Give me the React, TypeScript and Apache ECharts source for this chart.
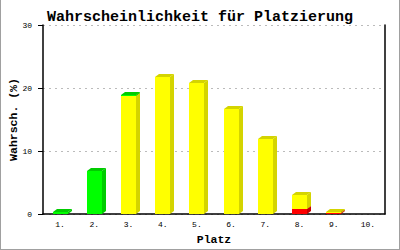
import React, { useEffect, useRef } from "react";
import * as echarts from "echarts";

const categories = ["1.", "2.", "3.", "4.", "5.", "6.", "7.", "8.", "9.", "10."];
const redValues = [0, 0, 0, 0, 0, 0, 0, 0.8, 0.12, 0];
const yellowValues = [0, 0, 18.7, 21.8, 20.8, 16.7, 11.9, 2.2, 0.18, 0];
const greenValues = [0.3, 6.9, 0.1, 0, 0, 0, 0, 0, 0, 0];
const yTicks = [0, 10, 20, 30];

const FRONT = { red: "#ff0000", yellow: "#ffff00", green: "#00ff00" };
const SIDE = { red: "#c80000", yellow: "#d4d400", green: "#00cc00" };

function stackData(vals: number[], below: number[][]) {
  return vals.map((v, i) => {
    const start = below.reduce((s, arr) => s + arr[i], 0);
    return [i, start, start + v];
  });
}

function makeRender(front: string, side: string) {
  return (params: any, api: any) => {
    const idx = api.value(0);
    const s = api.value(1);
    const e = api.value(2);
    if (e - s <= 0) return null;
    const cx = api.coord([idx, 0])[0];
    const y0 = Math.round(api.coord([idx, s])[1]);
    let y1 = api.coord([idx, e])[1];
    y1 = Math.min(Math.round(y1), y0 - 1);
    const xl = Math.round(cx - 7.5);
    const xr = xl + 15;
    const dx = 4;
    const dy = 3;
    return {
      type: "group",
      children: [
        {
          type: "polygon",
          shape: { points: [[xr, y0], [xr + dx, y0 - dy], [xr + dx, y1 - dy], [xr, y1]] },
          style: { fill: side },
        },
        {
          type: "polygon",
          shape: { points: [[xl, y1], [xl + dx, y1 - dy], [xr + dx, y1 - dy], [xr, y1]] },
          style: { fill: side },
        },
        {
          type: "rect",
          shape: { x: xl, y: y1, width: xr - xl, height: y0 - y1 },
          style: { fill: front },
        },
      ],
    };
  };
}

export default function App() {
  const ref = useRef<HTMLDivElement>(null);
  useEffect(() => {
    document.body.style.margin = "0";
    const chart = echarts.init(ref.current!, undefined, { renderer: "svg" });
    const mono = "Liberation Mono";
    const redData = stackData(redValues, []);
    const yellowData = stackData(yellowValues, [redValues]);
    const greenData = stackData(greenValues, [redValues, yellowValues]);
    chart.setOption({
      animation: false,
      backgroundColor: "#ffffff",
      title: {
        text: "Wahrscheinlichkeit für Platzierung",
        left: "center",
        top: 5,
        textStyle: { fontFamily: mono, fontSize: 15, fontWeight: "bold", color: "#000" },
      },
      graphic: [
        { type: "line", shape: { x1: 0.5, y1: 0, x2: 0.5, y2: 250 }, style: { stroke: "#a0a0a0", lineWidth: 1 } },
        { type: "line", shape: { x1: 399.5, y1: 0, x2: 399.5, y2: 250 }, style: { stroke: "#a0a0a0", lineWidth: 1 } },
        { type: "line", shape: { x1: 0, y1: 249.5, x2: 400, y2: 249.5 }, style: { stroke: "#a0a0a0", lineWidth: 1 } },
      ],
      grid: { left: 43, right: 15, top: 25, bottom: 36, containLabel: false, outerBoundsMode: "none" },
      xAxis: {
        type: "category",
        data: categories,
        name: "Platz",
        nameLocation: "middle",
        nameGap: 19,
        nameMoveOverlap: false,
        nameTextStyle: { fontFamily: mono, fontSize: 11.5, fontWeight: "bold", color: "#000" },
        axisLine: { lineStyle: { color: "#000", width: 1.5 } },
        axisTick: { show: false },
        axisLabel: { fontFamily: mono, fontSize: 8, color: "#000", margin: 6 },
      },
      yAxis: [
        {
          type: "value",
          min: 0,
          max: 30,
          interval: 10,
          name: "Wahrsch. (%)",
          nameLocation: "middle",
          nameGap: 24,
          nameMoveOverlap: false,
          nameTextStyle: { fontFamily: mono, fontSize: 11.5, fontWeight: "bold", color: "#000" },
          axisLine: { show: true, lineStyle: { color: "#000", width: 1.5 } },
          axisTick: { show: true, length: 5, lineStyle: { color: "#000" } },
          axisLabel: {
            fontFamily: mono,
            fontSize: 8,
            color: "#000",
            margin: 11,
            formatter: (v: number) => (yTicks.includes(v) ? String(v) : ""),
          },
          splitLine: { show: true, lineStyle: { color: "#bbbbbb", type: [2, 4], width: 1 } },
        },
        {
          type: "value",
          min: 0,
          max: 30,
          interval: 10,
          position: "right",
          axisLine: { show: true, lineStyle: { color: "#000", width: 1.5 } },
          axisTick: { show: false },
          axisLabel: { show: false },
          splitLine: { show: false },
        },
      ],
      series: [
        { type: "custom", renderItem: makeRender(FRONT.red, SIDE.red), data: redData, encode: { x: 0, y: [1, 2] } },
        { type: "custom", renderItem: makeRender(FRONT.yellow, SIDE.yellow), data: yellowData, encode: { x: 0, y: [1, 2] } },
        { type: "custom", renderItem: makeRender(FRONT.green, SIDE.green), data: greenData, encode: { x: 0, y: [1, 2] } },
      ],
    });
    return () => chart.dispose();
  }, []);
  return <div ref={ref} style={{ width: 400, height: 250 }} />;
}
